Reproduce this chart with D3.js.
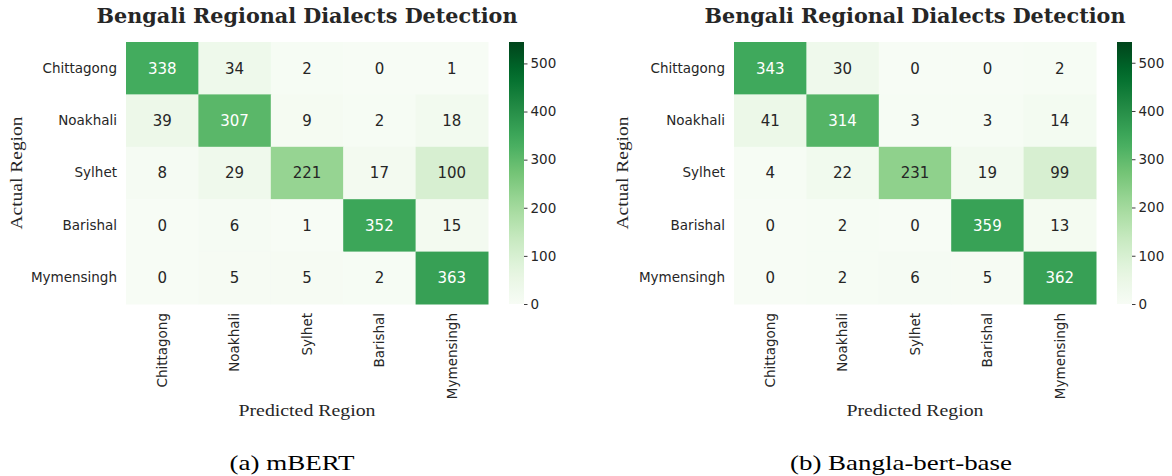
<!DOCTYPE html>
<html>
<head>
<meta charset="utf-8">
<script src="https://cdn.jsdelivr.net/npm/d3@7"></script>
<style>
  html, body { margin: 0; padding: 0; background: #fff; }
  svg { display: block; }
</style>
</head>
<body>
<svg id="chart" width="1172" height="476"></svg>
<script>
// ---------------- data ----------------
const categories = ["Chittagong", "Noakhali", "Sylhet", "Barishal", "Mymensingh"];
const mbertMatrix = [
  [338, 34, 2, 0, 1],
  [39, 307, 9, 2, 18],
  [8, 29, 221, 17, 100],
  [0, 6, 1, 352, 15],
  [0, 5, 5, 2, 363]
];
const banglaBertMatrix = [
  [343, 30, 0, 0, 2],
  [41, 314, 3, 3, 14],
  [4, 22, 231, 19, 99],
  [0, 2, 0, 359, 13],
  [0, 2, 6, 5, 362]
];
const colorbarTicks = [0, 100, 200, 300, 400, 500];
const chartTitle = "Bengali Regional Dialects Detection";
const xAxisTitle = "Predicted Region";
const yAxisTitle = "Actual Region";
const captions = ["(a) mBERT", "(b) Bangla-bert-base"];

// ---------------- styling ----------------
const greens = ["#f7fcf5","#e5f5e0","#c7e9c0","#a1d99b","#74c476","#41ab5d","#238b45","#006d2c","#00441b"];
const sansFont = "'DejaVu Sans', sans-serif";
const serifFont = "'Liberation Serif', 'DejaVu Serif', serif";
const textDark = "#262626";

function relLum(c) {
  const rgb = d3.rgb(c);
  const f = v => { v /= 255; return v <= 0.03928 ? v / 12.92 : Math.pow((v + 0.055) / 1.055, 2.4); };
  return 0.2126 * f(rgb.r) + 0.7152 * f(rgb.g) + 0.0722 * f(rgb.b);
}

const svg = d3.select("#chart");
const defs = svg.append("defs");

function drawPanel(matrix, opt) {
  const g = svg.append("g");
  const vmax = 1.5 * d3.max(matrix.flat());
  const color = d3.scaleLinear()
    .domain(greens.map((_, i) => i / (greens.length - 1) * vmax))
    .range(greens)
    .interpolate(d3.interpolateRgb)
    .clamp(true);

  const x = d3.scaleBand().domain(categories).range([opt.x0, opt.x1]);
  const y = d3.scaleBand().domain(categories).range([opt.y0, opt.y1]);

  const cells = [];
  matrix.forEach((row, i) => row.forEach((v, j) => cells.push({ r: categories[i], c: categories[j], v })));

  g.selectAll("rect.cell").data(cells).join("rect")
    .attr("class", "cell")
    .attr("x", d => x(d.c))
    .attr("y", d => y(d.r))
    .attr("width", x.bandwidth() + 0.5)
    .attr("height", y.bandwidth() + 0.5)
    .attr("fill", d => color(d.v));

  g.selectAll("text.annot").data(cells).join("text")
    .attr("class", "annot")
    .attr("x", d => x(d.c) + x.bandwidth() / 2)
    .attr("y", d => y(d.r) + y.bandwidth() / 2)
    .attr("dy", "0.36em")
    .attr("text-anchor", "middle")
    .attr("font-family", sansFont)
    .attr("font-size", 15)
    .attr("fill", d => relLum(color(d.v)) > 0.408 ? textDark : "#ffffff")
    .text(d => d.v);

  // y axis tick labels
  const yAxis = d3.axisLeft(y).tickSize(0).tickPadding(9);
  const ya = g.append("g").attr("transform", `translate(${opt.x0},0)`).call(yAxis);
  ya.select(".domain").remove();
  ya.selectAll("text").attr("font-family", sansFont).attr("font-size", 13.5).attr("fill", textDark);

  // x axis tick labels (rotated)
  const xAxis = d3.axisBottom(x).tickSize(0).tickPadding(9);
  const xa = g.append("g").attr("transform", `translate(0,${opt.y1})`).call(xAxis);
  xa.select(".domain").remove();
  xa.selectAll("text")
    .attr("font-family", sansFont).attr("font-size", 13.5).attr("fill", textDark)
    .attr("text-anchor", "end")
    .attr("transform", "rotate(-90)")
    .attr("x", -9)
    .attr("y", 0)
    .attr("dy", "0.35em");

  // title
  g.append("text")
    .attr("x", (opt.x0 + opt.x1) / 2).attr("y", 23)
    .attr("text-anchor", "middle")
    .attr("font-family", "'DejaVu Serif', serif").attr("font-weight", "bold")
    .attr("font-size", 19.5)
    .attr("fill", textDark)
    .attr("textLength", 421).attr("lengthAdjust", "spacingAndGlyphs")
    .text(chartTitle);

  // axis titles
  g.append("text")
    .attr("x", (opt.x0 + opt.x1) / 2).attr("y", 416)
    .attr("text-anchor", "middle")
    .attr("font-family", serifFont).attr("font-size", 16)
    .attr("fill", textDark)
    .attr("textLength", 137).attr("lengthAdjust", "spacingAndGlyphs")
    .text(xAxisTitle);

  g.append("text")
    .attr("transform", `translate(${opt.yTitleX},${(opt.y0 + opt.y1) / 2}) rotate(-90)`)
    .attr("text-anchor", "middle")
    .attr("font-family", serifFont).attr("font-size", 16)
    .attr("fill", textDark)
    .attr("textLength", 113).attr("lengthAdjust", "spacingAndGlyphs")
    .text(yAxisTitle);

  // caption
  g.append("text")
    .attr("x", opt.capX).attr("y", 470)
    .attr("text-anchor", "middle")
    .attr("font-family", serifFont).attr("font-size", 21)
    .attr("fill", "#000")
    .attr("textLength", opt.capLen).attr("lengthAdjust", "spacingAndGlyphs")
    .text(opt.caption);

  // colorbar
  const gradId = "grad" + opt.id;
  const grad = defs.append("linearGradient").attr("id", gradId)
    .attr("x1", 0).attr("y1", 1).attr("x2", 0).attr("y2", 0);
  d3.range(0, 1.0001, 0.05).forEach(t => {
    grad.append("stop").attr("offset", t).attr("stop-color", color(t * vmax));
  });
  const cy = d3.scaleLinear().domain([0, vmax]).range([opt.y1, opt.y0]);
  g.append("rect")
    .attr("x", opt.cbX).attr("y", opt.y0)
    .attr("width", opt.cbW).attr("height", opt.y1 - opt.y0)
    .attr("fill", `url(#${gradId})`);
  const cAxis = d3.axisRight(cy).tickValues(colorbarTicks).tickSize(3.5).tickPadding(3);
  const ca = g.append("g").attr("transform", `translate(${opt.cbX + opt.cbW},0)`).call(cAxis);
  ca.select(".domain").remove();
  ca.selectAll("line").attr("stroke", textDark).attr("stroke-width", 0.9);
  ca.selectAll("text").attr("font-family", sansFont).attr("font-size", 13.5).attr("fill", textDark);
}

drawPanel(mbertMatrix, {
  id: "a", x0: 126, x1: 488, y0: 42, y1: 304,
  cbX: 509, cbW: 15, yTitleX: 22, capX: 292, capLen: 125, caption: captions[0]
});
drawPanel(banglaBertMatrix, {
  id: "b", x0: 734, x1: 1096, y0: 42, y1: 304,
  cbX: 1117, cbW: 15, yTitleX: 628, capX: 901, capLen: 222, caption: captions[1]
});
</script>
</body>
</html>
